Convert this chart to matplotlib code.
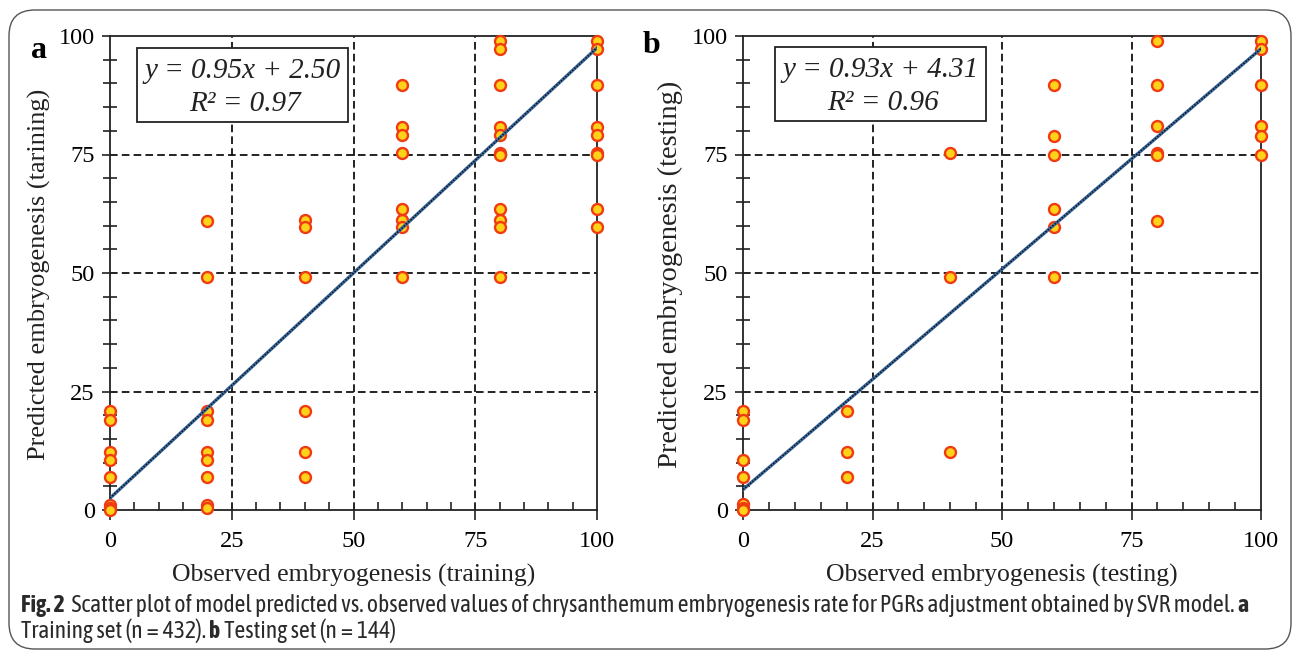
import matplotlib
matplotlib.use("Agg")
import matplotlib.pyplot as plt
from matplotlib import font_manager
from matplotlib.patches import Rectangle, FancyBboxPatch
from matplotlib.ticker import MultipleLocator

plt.rcParams['font.family'] = ['Liberation Serif', 'DejaVu Serif']
plt.rcParams['lines.scale_dashes'] = False

W, H = 1293, 650

# panel a: training set
train_x = [0, 0, 0, 0, 0, 0, 0, 0,
           20, 20, 20, 20, 20, 20, 20, 20, 20,
           40, 40, 40, 40, 40, 40,
           60, 60, 60, 60, 60, 60, 60, 60,
           80, 80, 80, 80, 80, 80, 80, 80, 80, 80, 80,
           100, 100, 100, 100, 100, 100, 100, 100, 100]
train_y = [20.9, 19.0, 12.3, 10.5, 7.0, 1.1, 0.4, 0.0,
           61.0, 49.2, 20.9, 19.0, 12.3, 10.5, 7.0, 1.1, 0.4,
           61.2, 59.8, 49.2, 20.9, 12.2, 7.0,
           89.7, 80.9, 79.1, 75.3, 63.6, 61.2, 59.8, 49.2,
           99.0, 97.2, 89.7, 80.9, 79.1, 75.3, 75.0, 63.6, 61.2, 59.8, 49.2,
           99.0, 97.2, 89.7, 80.9, 79.1, 75.3, 75.0, 63.6, 59.8]

# panel b: testing set
test_x = [0, 0, 0, 0, 0, 0, 0,
          20, 20, 20,
          40, 40, 40,
          60, 60, 60, 60, 60, 60,
          80, 80, 80, 80, 80, 80,
          100, 100, 100, 100, 100, 100]
test_y = [20.9, 19.0, 10.5, 7.0, 1.2, 0.4, 0.0,
          20.9, 12.3, 7.0,
          75.3, 49.2, 12.3,
          89.7, 78.9, 75.0, 63.5, 59.8, 49.2,
          99.0, 89.7, 81.0, 75.3, 75.0, 61.0,
          99.0, 97.2, 89.7, 81.0, 78.9, 75.0]

fits = [(0.95, 2.50, 0.97), (0.93, 4.31, 0.96)]
xlabels = ['Observed embryogenesis (training)', 'Observed embryogenesis (testing)']
ylabels = ['Predicted embryogenesis (tarining)', 'Predicted embryogenesis (testing)']
panel_tags = ['a', 'b']
ticks = [0, 25, 50, 75, 100]


def fx(px):
    return px / W


def fy(py):
    return 1 - py / H


fig = plt.figure(figsize=(W / 100, H / 100), dpi=100)
renderer = fig.canvas.get_renderer()

# axes placement in pixels: left, right, top, bottom
boxes = [(110, 597, 36, 510), (743, 1261, 36, 510)]
eq_boxes = [(137, 348, 48, 122), (775, 986, 47, 121)]
ylab_x = [39, 670]
ylab_size = [19, 20.5]
tag_pos = [(31, 58), (643, 53)]

for i, (xs, ys) in enumerate([(train_x, train_y), (test_x, test_y)]):
    l, r, t, b = boxes[i]
    ax = fig.add_axes([fx(l), fy(b), fx(r) - fx(l), fy(t) - fy(b)])
    ax.set_xlim(0, 100)
    ax.set_ylim(0, 100)
    for s in ax.spines.values():
        s.set_linewidth(1.3)
        s.set_color('#222222')
    for g in [25, 50, 75]:
        ax.axhline(g, color='#111111', lw=1.3, dashes=(5.5, 3), zorder=1)
        ax.axvline(g, color='#111111', lw=1.3, dashes=(5.5, 3), zorder=1)

    ax.scatter(xs, ys, s=62, facecolor='#ffd21a', edgecolor='#f03a10',
               linewidth=1.7, zorder=3, clip_on=False)

    m, c, r2 = fits[i]
    lx = [0, 100]
    ly = [m * v + c for v in lx]
    ax.plot(lx, ly, color='#3a6aa0', lw=2.4, zorder=4)
    ax.plot(lx, ly, color='#111111', lw=1.2, ls=(0, (1, 1.2)), zorder=5)

    ax.set_xticks(ticks)
    ax.set_yticks(ticks)
    ax.xaxis.set_minor_locator(MultipleLocator(5))
    ax.yaxis.set_minor_locator(MultipleLocator(5))
    ax.tick_params(axis='x', which='major', direction='out', length=7,
                   width=1.2, labelsize=17.5, pad=8, color='#222222')
    ax.tick_params(axis='x', which='minor', direction='in', length=6,
                   width=1.2, color='#222222')
    ax.tick_params(axis='y', which='major', direction='out', length=6,
                   width=1.2, labelsize=17.5, pad=5, color='#222222')
    ax.tick_params(axis='y', which='minor', direction='inout', length=10,
                   width=1.2, color='#222222')
    ax.set_xlabel(xlabels[i], fontsize=18.5, labelpad=9, color='#222222')

    fig.text(fx(ylab_x[i]), fy((t + b) / 2 + 1), ylabels[i], fontsize=ylab_size[i],
             rotation=90, ha='center', va='center', color='#222222')

    el, er, et, eb = eq_boxes[i]
    fig.add_artist(Rectangle((fx(el), fy(eb)), fx(er) - fx(el), fy(et) - fy(eb),
                             transform=fig.transFigure, facecolor='white',
                             edgecolor='#222222', lw=1.3, zorder=6))
    ecx = (el + er) / 2
    fig.text(fx(ecx), fy(et + 23), f'y = {m:.2f}x + {c:.2f}', fontsize=21,
             style='italic', ha='center', va='center', zorder=7, color='#222222')
    fig.text(fx(ecx + 3), fy(et + 56), f'R\u00b2 = {r2:.2f}', fontsize=21,
             style='italic', ha='center', va='center', zorder=7, color='#222222')

    tx, ty = tag_pos[i]
    fig.text(fx(tx), fy(ty), panel_tags[i], fontsize=23, fontweight='bold',
             ha='left', va='baseline')

# rounded frame around the figure
fig.add_artist(FancyBboxPatch((fx(9), fy(649)), fx(1291) - fx(9), fy(10) - fy(649),
                              boxstyle='round,pad=0,rounding_size=0.02',
                              transform=fig.transFigure, facecolor='none',
                              edgecolor='#555555', lw=1.0, mutation_aspect=W / H))

# caption font: prefer a condensed sans family that also has a bold face
cond = {}
for f in font_manager.fontManager.ttflist:
    n = f.name
    if ('Condensed' in n or 'Narrow' in n) and 'Serif' not in n and 'Mono' not in n \
            and 'CJK' not in n:
        w = f.weight if isinstance(f.weight, int) else (700 if 'bold' in str(f.weight) else 400)
        cond.setdefault(n, set()).add(w)
reg_pick = [n for n in sorted(cond) if min(cond[n]) <= 400]
bold_pick = [n for n in sorted(cond) if min(cond[n]) <= 400 and max(cond[n]) >= 600]
cap_font = (bold_pick or reg_pick)[:1] + ['Open Sans', 'DejaVu Sans']

cap_lines = [
    [('Fig. 2', 'bold'), ('  Scatter plot of model predicted vs. observed values of chrysanthemum '
                          'embryogenesis rate for PGRs adjustment obtained by SVR model. ', 'normal'),
     ('a', 'bold')],
    [('Training set (n\u2009=\u2009432). ', 'normal'), ('b', 'bold'),
     (' Testing set (n\u2009=\u2009144)', 'normal')],
]
cap_y = [612, 638]

# size the caption so the first line spans the same width as in the figure
probe = 0
for txt, wt in cap_lines[0]:
    t_ = fig.text(0, 0, txt, fontsize=10, fontweight=wt, family=cap_font)
    probe += t_.get_window_extent(renderer).width
    t_.remove()
cap_size = min(17, 10 * 1241 / probe)

for parts, py in zip(cap_lines, cap_y):
    x = 21
    for txt, wt in parts:
        t_ = fig.text(fx(x), fy(py), txt, fontsize=cap_size, fontweight=wt,
                      family=cap_font, color='#2a2a2a', ha='left', va='baseline')
        x += t_.get_window_extent(renderer).width

fig.savefig('out.png', dpi=100)
